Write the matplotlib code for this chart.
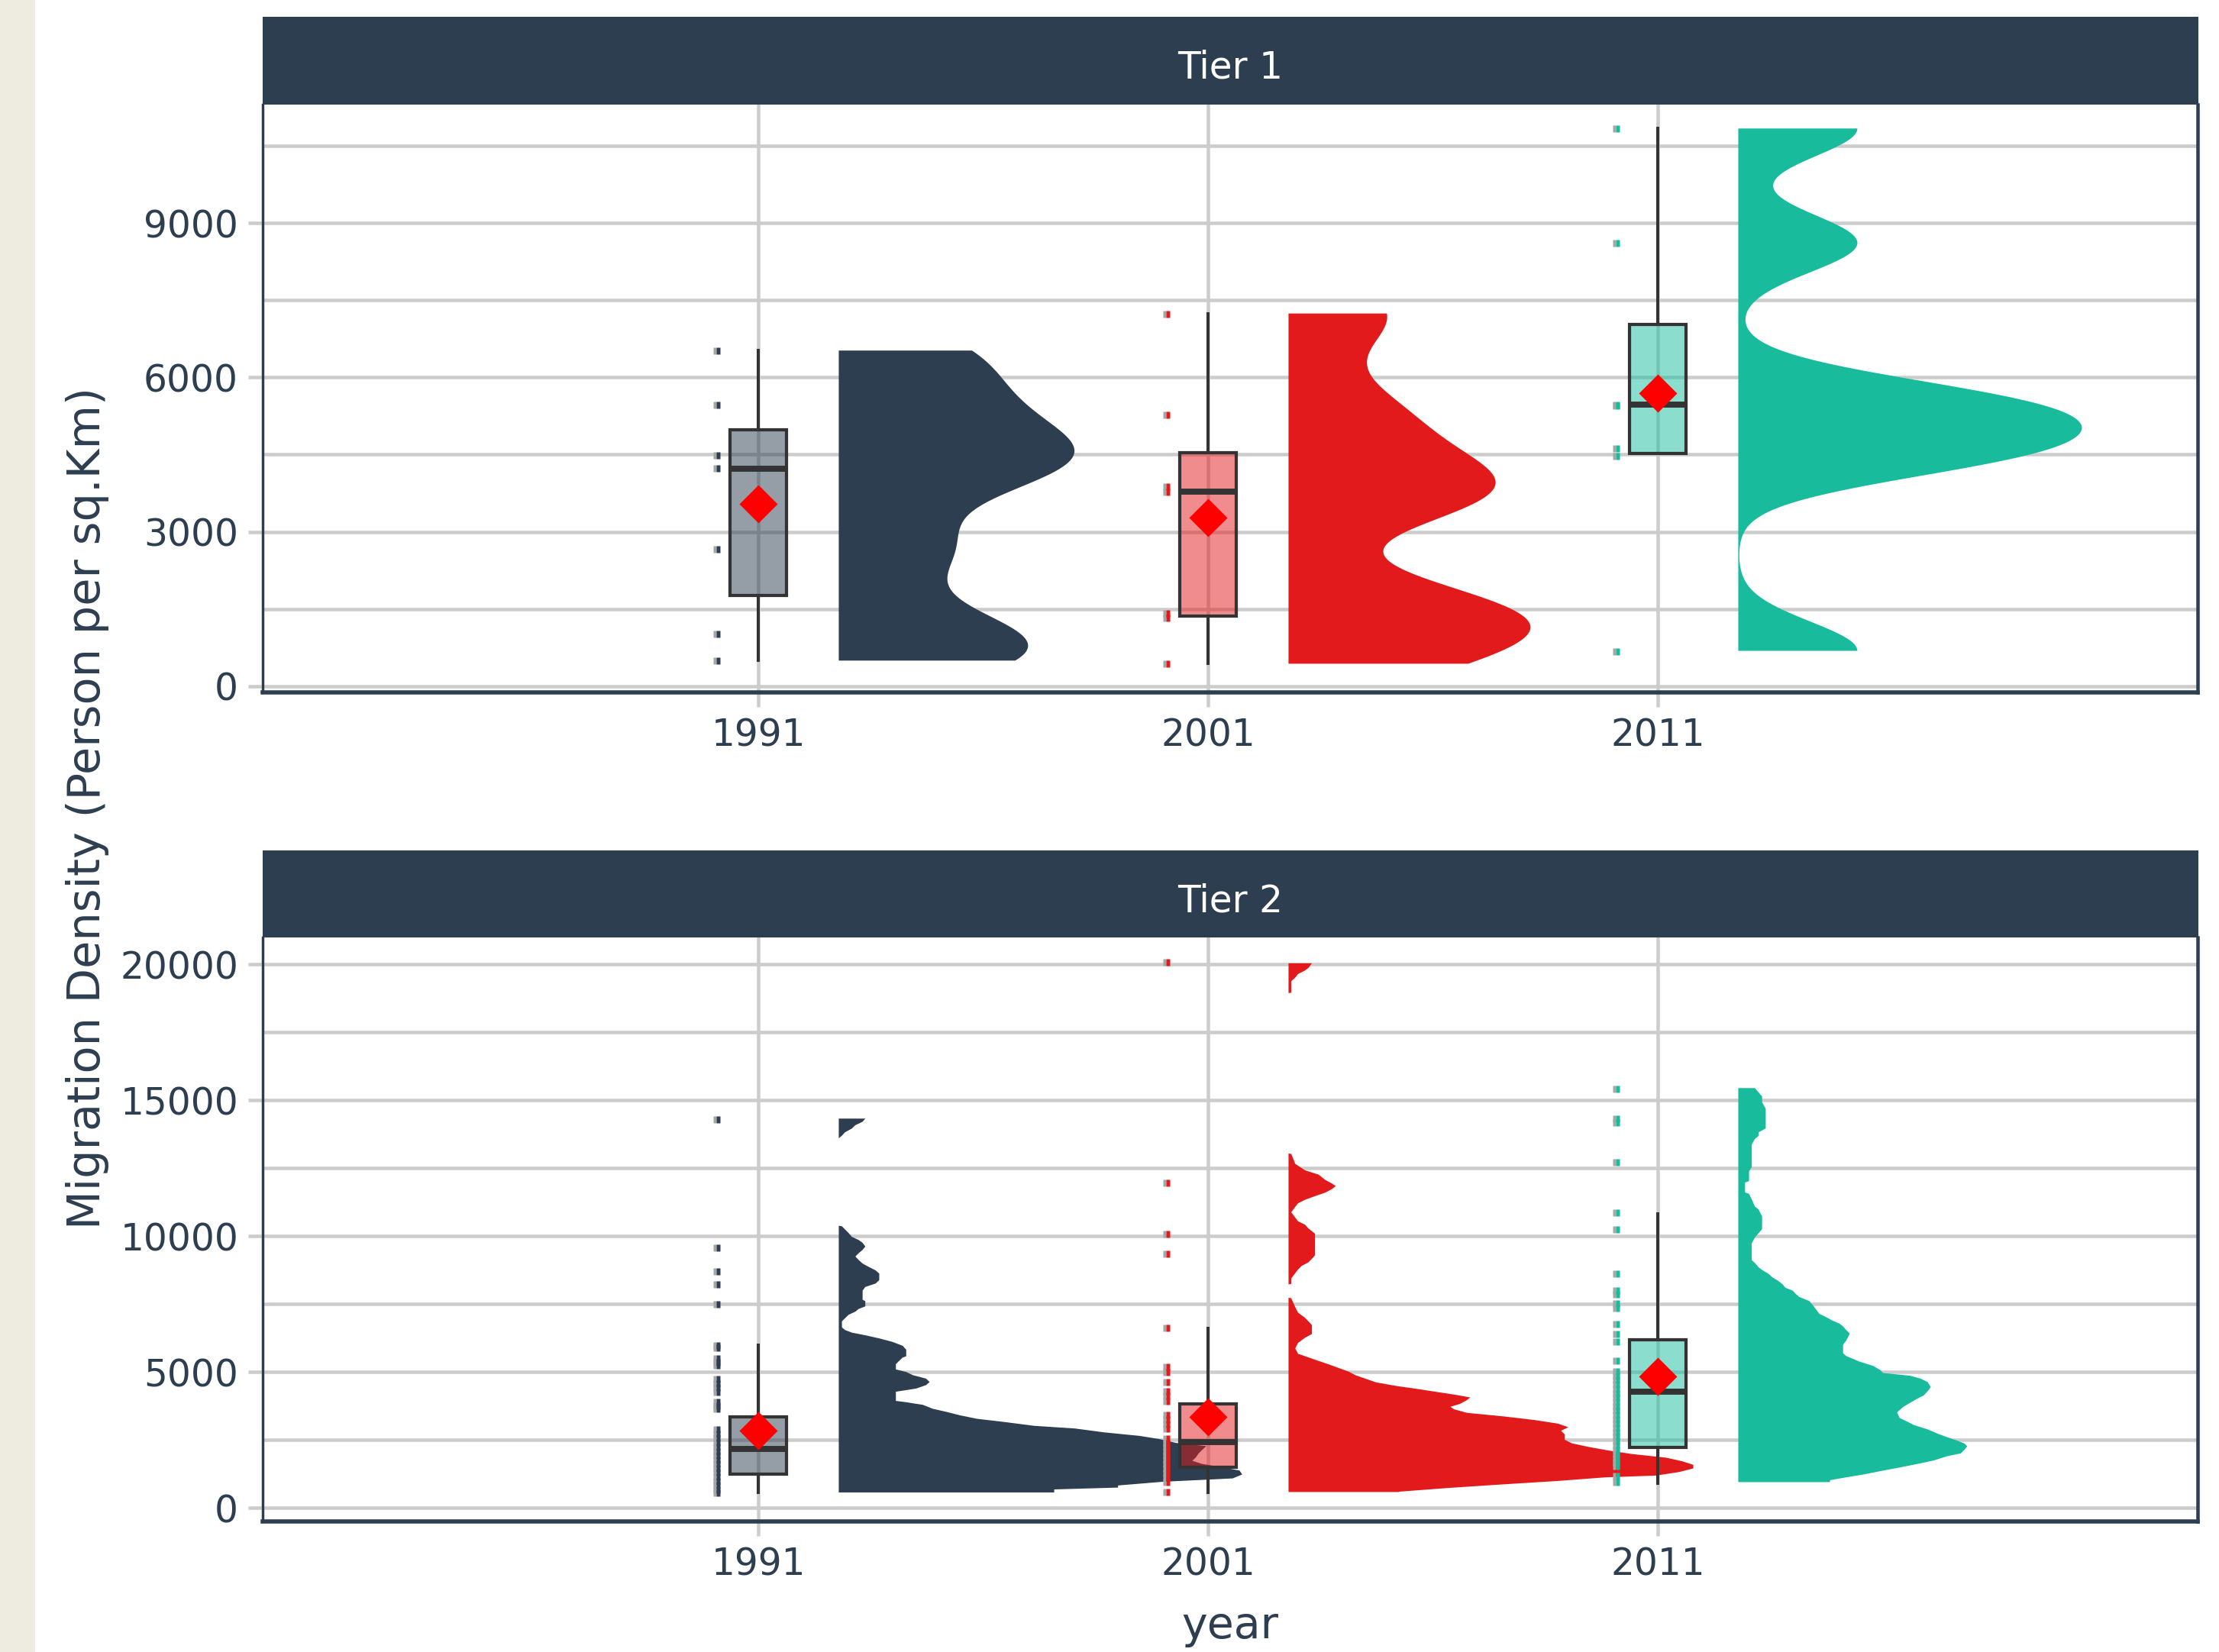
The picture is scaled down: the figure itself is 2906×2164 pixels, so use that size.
import numpy as np
import matplotlib
matplotlib.use("Agg")
import matplotlib.pyplot as plt
from matplotlib.patches import Rectangle

# ---------------------------------------------------------------- data
years = ["1991", "2001", "2011"]
tiers = ["Tier 1", "Tier 2"]
group_colors = ["#2C3E50", "#E31A1C", "#18BC9C"]

# Tier 1 observations (Person per sq.Km)
t1_1991 = [493, 1016, 2660, 4236, 4494, 5471, 6524]
t1_2001 = [432, 1326, 1417, 3774, 3888, 5281, 7245]
t1_2011 = [683, 4481, 4622, 5455, 5480, 8617, 10844]

# Tier 2 observations
t2_1991 = [14313, 9597, 8723, 8222, 7500, 5990, 5890, 5500, 5380, 5265,
           4740, 4590, 4430, 4270, 3905, 3780, 3650,
           2885, 2730, 2575, 2410, 2260, 2095, 1940, 1785, 1620, 1470,
           1310, 1150, 990, 840, 690, 565]
t2_2001 = [20100, 11975, 10100, 9365, 6640, 5190, 4997, 4649, 4301, 4120,
           3934, 3421, 3250, 3080, 2919, 2556, 2400, 2250, 2090, 1930,
           1780, 1620, 1460, 1300, 1140, 962, 580]
t2_2011 = [15436, 14326, 14180, 12717, 10869, 10246, 8637, 8004, 7869, 7526,
           7350, 6769, 6405, 6135, 5419, 5028, 4870, 4710, 4550, 4390,
           4230, 4070, 3910, 3750, 3590, 3430, 3270, 3110, 2950, 2790,
           2630, 2470, 2310, 2150, 1990, 1830, 1680, 1554, 1177, 951]

# Box summaries per year: lower whisker, Q1, median, Q3, upper whisker, mean
t1_whislo = [493, 432, 4525]
t1_q1 = [1766, 1365, 4525]
t1_med = [4228, 3774, 5470]
t1_q3 = [4986, 4531, 7026]
t1_whishi = [6524, 7245, 10844]
t1_mean = [3539, 3281, 5701]

t2_whislo = [559, 551, 910]
t2_q1 = [1225, 1481, 2220]
t2_med = [2166, 2408, 4268]
t2_q3 = [3355, 3830, 6178]
t2_whishi = [5976, 6617, 10806]
t2_mean = [2840, 3346, 4827]

# Tier 1 half-violin peak widths (x units)
t1_violin_width = [0.524, 0.538, 0.764]

# Tier 2 half-violin outlines: density level and half-width (x units)
t2_1991_vy = [565, 580, 677, 744, 822, 957, 1082, 1227, 1372, 1498, 1614, 1730,
              1856, 2001, 2126, 2271, 2387, 2532, 2648, 2774, 2919, 3016, 3160,
              3276, 3402, 3528, 3644, 3789, 3885, 3934, 4272, 4388, 4514, 4629,
              4755, 4881, 4997, 5093, 5287, 5403, 5528, 5577, 5818, 5963, 6108,
              6234, 6350, 6447, 6543, 6640, 6862, 6978, 7104, 7220, 7316, 7413,
              7606, 7655, 7993, 8128, 8254, 8380, 8621, 8737, 8863, 8988, 9124,
              9249, 9366, 9491, 9617, 9752, 9858, 9974, 10110, 10361, 10380,
              13590, 13599, 13695, 13821, 13956, 14082, 14207, 14324]
t2_1991_vw = [0.479, 0.479, 0.479, 0.621, 0.621, 0.72, 0.876, 0.897, 0.891, 0.85,
              0.808, 0.786, 0.794, 0.800, 0.808, 0.817, 0.75, 0.712, 0.668, 0.591,
              0.525, 0.435, 0.367, 0.307, 0.270, 0.240, 0.209, 0.187, 0.150, 0.127,
              0.127, 0.172, 0.194, 0.202, 0.194, 0.165, 0.150, 0.127, 0.127, 0.134,
              0.142, 0.150, 0.150, 0.142, 0.119, 0.090, 0.059, 0.029, 0.014, 0.007,
              0.007, 0.014, 0.022, 0.037, 0.044, 0.059, 0.059, 0.053, 0.053, 0.059,
              0.082, 0.090, 0.090, 0.082, 0.067, 0.053, 0.044, 0.037, 0.044, 0.053,
              0.059, 0.053, 0.044, 0.029, 0.022, 0.007, 0.0,
              0.0, 0.0, 0.007, 0.014, 0.029, 0.037, 0.053, 0.059]

t2_2001_vy = [580, 593, 725, 857, 988, 1120, 1186, 1318, 1450, 1582, 1714, 1846,
              1978, 2109, 2241, 2373, 2505, 2703, 2835, 2966, 3098, 3230, 3362,
              3494, 3626, 3718, 3823, 3955, 4061, 4153, 4245, 4377, 4483, 4614,
              4746, 4878, 5010, 5142, 5274, 5405, 5537, 5669, 5867, 6065, 6262,
              6394, 6724, 6988, 7185, 7383, 7713, 7730,
              8220, 8240, 8438, 8635, 8767, 8900, 9031, 9163, 9295, 10086, 10284,
              10415, 10547, 10679, 10877, 11075, 11206, 11338, 11470, 11602, 11734,
              11839, 11931, 12063, 12261, 12419, 12657, 13025, 13040,
              18940, 18958, 19380, 19512, 19644, 19776, 19881, 20040]
t2_2001_vw = [0.246, 0.246, 0.351, 0.472, 0.599, 0.704, 0.817, 0.869, 0.900, 0.900,
              0.875, 0.839, 0.764, 0.711, 0.667, 0.630, 0.614, 0.614, 0.606, 0.622,
              0.599, 0.547, 0.479, 0.397, 0.368, 0.360, 0.381, 0.396, 0.404, 0.373,
              0.337, 0.285, 0.240, 0.195, 0.172, 0.149, 0.134, 0.112, 0.090, 0.067,
              0.044, 0.021, 0.015, 0.021, 0.037, 0.052, 0.052, 0.037, 0.021, 0.015,
              0.006, 0.0,
              0.0, 0.006, 0.006, 0.015, 0.021, 0.029, 0.044, 0.052, 0.059, 0.059,
              0.044, 0.037, 0.021, 0.015, 0.006, 0.015, 0.021, 0.037, 0.059, 0.082,
              0.097, 0.105, 0.097, 0.082, 0.067, 0.037, 0.015, 0.006, 0.0,
              0.0, 0.006, 0.006, 0.015, 0.021, 0.037, 0.045, 0.052]

t2_2011_vy = [945, 1017, 1121, 1225, 1350, 1484, 1609, 1744, 1900, 2003, 2139,
              2263, 2367, 2471, 2595, 2730, 2886, 3042, 3177, 3301, 3509, 3716,
              3872, 4007, 4132, 4287, 4443, 4630, 4755, 4858, 4962, 5066, 5222,
              5377, 5481, 5585, 5689, 6000, 6156, 6415, 6540, 6675, 6779, 6883,
              7018, 7142, 7298, 7454, 7609, 7765, 7869, 7993, 8097, 8232, 8336,
              8492, 8616, 8751, 8855, 9011, 9115, 9737, 9945, 10101, 10257, 10724,
              10983, 11087, 11347, 11554, 11606, 11969, 12021, 12384, 12540, 13371,
              13578, 13682, 13817, 13962, 14689, 14928, 15135, 15291, 15447]
t2_2011_vw = [0.204, 0.204, 0.240, 0.278, 0.316, 0.359, 0.397, 0.435, 0.465, 0.495,
              0.503, 0.509, 0.503, 0.487, 0.465, 0.443, 0.421, 0.391, 0.375, 0.359,
              0.353, 0.367, 0.383, 0.397, 0.412, 0.421, 0.428, 0.421, 0.405, 0.383,
              0.322, 0.316, 0.300, 0.270, 0.255, 0.240, 0.233, 0.233, 0.240, 0.248,
              0.240, 0.233, 0.225, 0.210, 0.195, 0.180, 0.173, 0.166, 0.158, 0.135,
              0.128, 0.121, 0.105, 0.098, 0.090, 0.075, 0.067, 0.053, 0.045, 0.037,
              0.030, 0.030, 0.037, 0.045, 0.053, 0.053, 0.045, 0.037, 0.030, 0.024,
              0.015, 0.015, 0.024, 0.024, 0.030, 0.030, 0.037, 0.045, 0.045, 0.061,
              0.061, 0.053, 0.053, 0.045, 0.037]

t1_points = [t1_1991, t1_2001, t1_2011]
t2_points = [t2_1991, t2_2001, t2_2011]
t2_profiles = [(t2_1991_vy, t2_1991_vw), (t2_2001_vy, t2_2001_vw),
               (t2_2011_vy, t2_2011_vw)]

# ---------------------------------------------------------------- layout
W, H = 2906, 2164
fig = plt.figure(figsize=(W / 100, H / 100), dpi=100)
fig.patch.set_facecolor("white")
fig.add_artist(Rectangle((0, 0), 46 / W, 1, transform=fig.transFigure,
                         facecolor="#EEECE1", edgecolor="none"))

TEXT = "#2C3E50"
GRID = "#CCCCCC"
BOXLINE = "#333333"
PX = 0.72  # points per pixel at 100 dpi


def fig_rect(x0, y0, x1, y1):
    return [x0 / W, 1 - y1 / H, (x1 - x0) / W, (y1 - y0) / H]


panel_px = [(344, 137, 2878, 907), (344, 1228, 2878, 1993)]
strip_px = [(344, 22, 2879, 137), (344, 1114, 2879, 1228)]
ylims = [(-126, 11309), (-503, 20990)]
major_y = [[0, 3000, 6000, 9000], [0, 5000, 10000, 15000, 20000]]
minor_y = [[1500, 4500, 7500, 10500], [2500, 7500, 12500, 17500]]

positions = np.array([1, 2, 3])
violin_offset = 0.179
rain_offset = -0.093
box_width = 0.126

left_half = [(-1, -1), (0, -1), (0, 1), (-1, 1), (-1, -1)]
right_half = [(0, -1), (1, -1), (1, 1), (0, 1), (0, -1)]


def half_bw_factor(values):
    v = np.asarray(values, float)
    sd = v.std(ddof=1)
    q75, q25 = np.percentile(v, [75, 25])
    h = 0.9 * min(sd, (q75 - q25) / 1.34) * len(v) ** -0.2
    return 0.5 * h / sd


def with_alpha(hex_color, a):
    rgb = matplotlib.colors.to_rgb(hex_color)
    return (*rgb, a)


box_sets = [
    (t1_whislo, t1_q1, t1_med, t1_q3, t1_whishi, t1_mean),
    (t2_whislo, t2_q1, t2_med, t2_q3, t2_whishi, t2_mean),
]

for p in range(2):
    ax = fig.add_axes(fig_rect(*panel_px[p]))
    ax.set_facecolor("white")
    ax.set_axisbelow(True)

    # half violins
    for i, pos in enumerate(positions):
        base = pos + violin_offset
        if p == 0:
            parts = ax.violinplot([t1_points[i]], positions=[base],
                                  widths=[2 * t1_violin_width[i]],
                                  showextrema=False, points=512,
                                  bw_method=half_bw_factor(t1_points[i]),
                                  side="high")
            for body in parts["bodies"]:
                body.set_facecolor(group_colors[i])
                body.set_edgecolor("none")
                body.set_alpha(1)
                body.set_zorder(2)
        else:
            vy, vw = t2_profiles[i]
            vy = np.asarray(vy, float)
            vw = np.asarray(vw, float)
            ax.fill_betweenx(vy, base, base + vw, facecolor=group_colors[i],
                             edgecolor="none", linewidth=0, zorder=2)

    # rain points
    pts = t1_points if p == 0 else t2_points
    for i, pos in enumerate(positions):
        xs = np.full(len(pts[i]), pos + rain_offset)
        ax.plot(xs, pts[i], ls="none", marker=left_half, ms=9.0 * PX,
                mfc="#A6A6A6", mec="none", zorder=3)
        ax.plot(xs, pts[i], ls="none", marker=right_half, ms=9.0 * PX,
                mfc=group_colors[i], mec="none", zorder=3)

    # boxes and means
    wl, q1, md, q3, wh, mn = box_sets[p]
    for i, pos in enumerate(positions):
        stats = [dict(whislo=wl[i], q1=q1[i], med=md[i], q3=q3[i],
                      whishi=wh[i], fliers=[])]
        ax.bxp(stats, positions=[pos], widths=box_width, patch_artist=True,
               showcaps=False, showfliers=False, manage_ticks=False,
               boxprops=dict(facecolor=with_alpha(group_colors[i], 0.5),
                             edgecolor=BOXLINE, linewidth=4.2 * PX),
               medianprops=dict(color=BOXLINE, linewidth=7.9 * PX),
               whiskerprops=dict(color=BOXLINE, linewidth=4.0 * PX),
               zorder=4)
        ax.plot([pos], [mn[i]], ls="none", marker="D", ms=50.0 * PX / 1.414,
                mfc="#FF0000", mec="none", zorder=5)

    # axes styling
    ax.set_xlim(-0.1019, 4.2003)
    ax.set_ylim(*ylims[p])
    ax.set_xticks(positions)
    ax.set_xticklabels(years)
    ax.set_yticks(major_y[p])
    ax.set_yticklabels([str(v) for v in major_y[p]])
    ax.set_yticks(minor_y[p], minor=True)
    ax.grid(which="major", axis="both", color=GRID, linewidth=4.5 * PX)
    ax.grid(which="minor", axis="y", color=GRID, linewidth=4.5 * PX)
    ax.tick_params(axis="both", which="major", direction="out",
                   length=19 * PX, width=4.5 * PX, color=GRID,
                   labelsize=35, labelcolor=TEXT)
    ax.tick_params(axis="y", which="major", pad=9.3)
    ax.tick_params(axis="x", which="major", pad=10)
    ax.tick_params(axis="y", which="minor", length=0)
    for side, lw in (("left", 3.4), ("right", 4.5), ("bottom", 5.5)):
        ax.spines[side].set_color("#2C3E50")
        ax.spines[side].set_linewidth(lw * PX)
    ax.spines["top"].set_visible(False)

    # facet strip
    sax = fig.add_axes(fig_rect(*strip_px[p]))
    sax.set_facecolor("#2C3E50")
    sax.set_xticks([])
    sax.set_yticks([])
    for s in sax.spines.values():
        s.set_visible(False)
    sax.text(0.5, 0.42, tiers[p], color="white", fontsize=35,
             ha="center", va="center", transform=sax.transAxes)

fig.text(115 / W, 1 - 1058 / H, "Migration Density (Person per sq.Km)",
         rotation=90, ha="center", va="center", fontsize=42.5, color=TEXT)
fig.text(1611 / W, 1 - 2130 / H, "year", ha="center", va="center",
         fontsize=41, color=TEXT)

fig.savefig("out.png", dpi=100, facecolor=fig.get_facecolor())
